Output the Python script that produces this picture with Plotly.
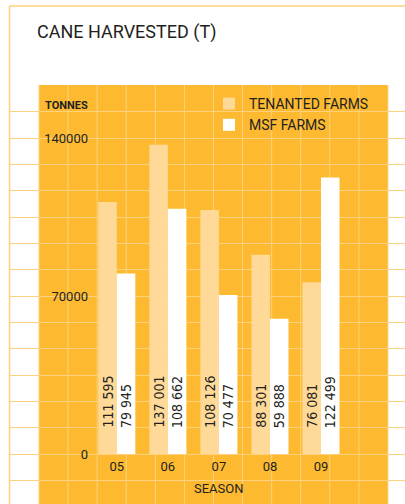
import plotly.graph_objects as go

# Season data (tonnes of cane harvested)
seasons = ["05", "06", "07", "08", "09"]
tenanted = [111595, 137001, 108126, 88301, 76081]
msf = [79945, 108662, 70477, 59888, 122499]
ytick_vals = [0, 70000, 140000]

W, H = 405, 504
ML, MT = 10, 85
PW, PH = W - ML, H - MT

ORANGE = "#FDBA30"
PEACH = "#FED998"
GRID = "#FDD27E"
INK = "#231F20"


def px_x(px):
    return (px - ML) / PW


def px_y(py):
    return (H - py) / PH


fig = go.Figure()
fig.add_trace(go.Bar(name="TENANTED FARMS", x=list(range(len(seasons))), y=tenanted,
                     marker=dict(color=PEACH, line=dict(width=0))))
fig.add_trace(go.Bar(name="MSF FARMS", x=list(range(len(seasons))), y=msf,
                     marker=dict(color="white", line=dict(width=0))))

# vertical value labels sitting near the bar bases
bar_half = (1 - 0.275) / 4
annotations = []
for i, (a, b) in enumerate(zip(tenanted, msf)):
    for off, v in ((-bar_half, a), (bar_half, b)):
        annotations.append(dict(
            x=i + off, y=0, xref="x", yref="y", text=f"{v:,}".replace(",", " "),
            textangle=-90, showarrow=False, yanchor="bottom", xanchor="center",
            yshift=24, font=dict(family="Liberation Sans Narrow, DejaVu Sans Condensed, Roboto",
                                 size=14, color=INK)))

annotations.append(dict(x=px_x(43), y=px_y(105.5), xref="paper", yref="paper",
                        text="<b>TONNES</b>", showarrow=False, xanchor="left", yanchor="middle",
                        font=dict(family="Roboto", size=11, color=INK)))
annotations.append(dict(x=2, y=px_y(488), xref="x", yref="paper", text="SEASON",
                        showarrow=False, xanchor="center", yanchor="middle",
                        font=dict(family="Roboto", size=13, color=INK)))

# background panel, paper grid and frame lines
shapes = [dict(type="rect", xref="paper", yref="paper", x0=px_x(39), x1=px_x(388),
               y0=0, y1=1, fillcolor=ORANGE, line=dict(width=0), layer="below")]
for k in range(13):
    xp = px_x(39 + 29.08 * k)
    shapes.append(dict(type="line", xref="paper", yref="paper", x0=xp, x1=xp, y0=0, y1=1,
                       line=dict(color=GRID, width=1), layer="below"))
shapes.append(dict(type="line", xref="paper", yref="paper", x0=px_x(9.5), x1=1,
                   y0=px_y(6), y1=px_y(6), line=dict(color=GRID, width=1.5)))
shapes.append(dict(type="line", xref="paper", yref="paper", x0=px_x(9.5), x1=px_x(9.5),
                   y0=0, y1=px_y(6), line=dict(color=GRID, width=1.5)))

per_px = 70000 / 158
fig.update_layout(
    width=W, height=H,
    margin=dict(l=ML, r=0, t=MT, b=0),
    paper_bgcolor="white", plot_bgcolor="rgba(0,0,0,0)",
    barmode="group", bargap=0.275, bargroupgap=0,
    title=dict(text="CANE HARVESTED (T)", xref="container", yref="container",
               x=37 / W, xanchor="left", y=1 - 31.5 / H, yanchor="middle",
               font=dict(family="Roboto", size=18, color=INK)),
    showlegend=True,
    legend=dict(x=px_x(209), y=px_y(88), xanchor="left", yanchor="top",
                bgcolor="rgba(0,0,0,0)", font=dict(family="Roboto", size=14, color=INK),
                traceorder="normal", tracegroupgap=0),
    xaxis=dict(range=[(10 - 116.8) / 51.05, (405 - 116.8) / 51.05],
               tickvals=list(range(len(seasons))), ticktext=seasons,
               showgrid=False, zeroline=False, showline=False, ticks="",
               anchor="free", position=px_y(457),
               tickfont=dict(family="Roboto", size=13, color=INK)),
    yaxis=dict(range=[-(H - 454) * per_px, (454 - MT) * per_px],
               tickvals=ytick_vals, tickformat="d",
               showgrid=True, gridcolor=GRID, gridwidth=1,
               minor=dict(tick0=0, dtick=70000 / 6, showgrid=True, gridcolor=GRID, gridwidth=1),
               zeroline=False, showline=False, ticks="",
               anchor="free", position=px_x(88),
               tickfont=dict(family="Roboto", size=13, color=INK)),
    shapes=shapes,
    annotations=annotations,
)

fig.write_html("out.html")
